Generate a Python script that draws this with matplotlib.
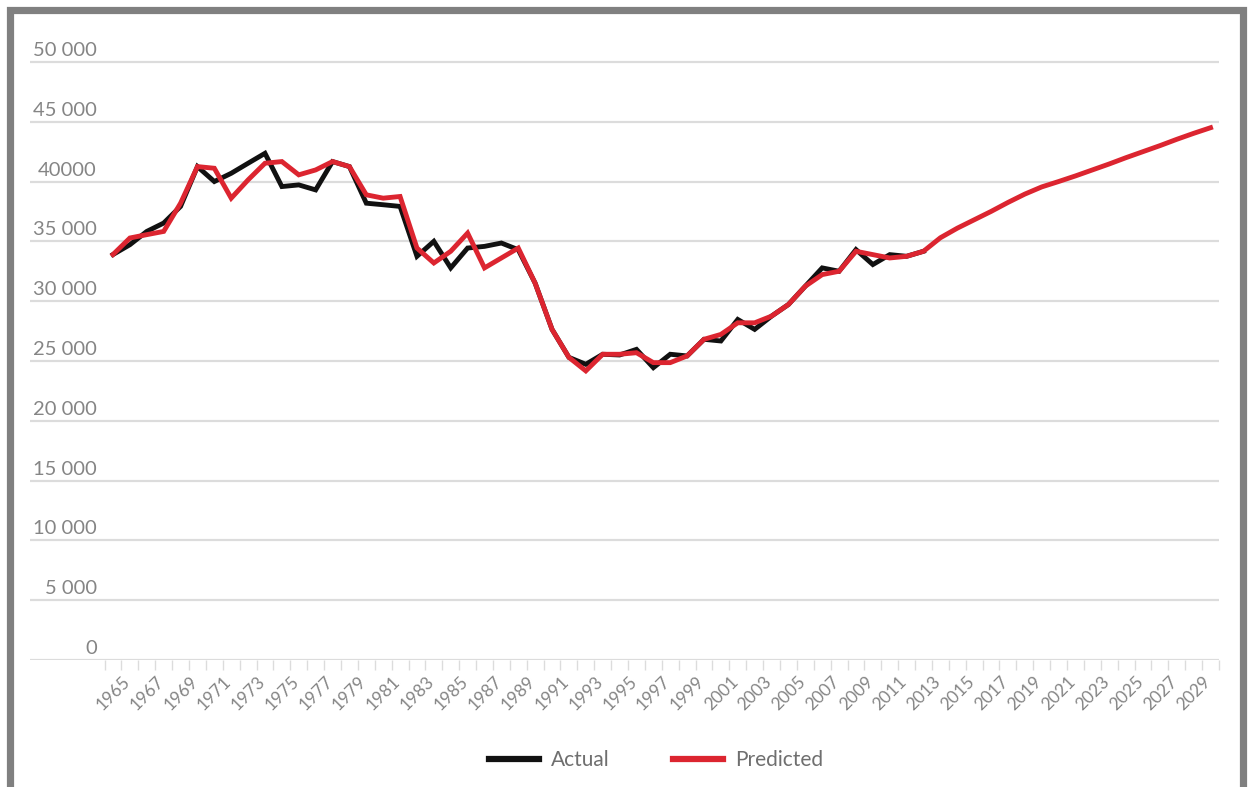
import numpy as np
import matplotlib
matplotlib.use("Agg")
import matplotlib.pyplot as plt
import matplotlib.transforms as mtransforms
from matplotlib.patches import Rectangle

plt.rcParams['font.family'] = ['Lato', 'DejaVu Sans']

# yearly series
years_actual = list(range(1965, 2014))
actual = [33900, 34720, 35830, 36530, 37920, 41250, 40000, 40690, 41530, 42360,
          39580, 39720, 39300, 41670, 41250, 38190, 38060, 37920, 33750, 35000,
          32780, 34440, 34580, 34860, 34300, 31500, 27640, 25300, 24720, 25560,
          25500, 25970, 24440, 25560, 25420, 26810, 26670, 28470, 27640, 28750,
          29720, 31250, 32780, 32500, 34310, 33060, 33890, 33750, 34170]

years_pred = list(range(1965, 2031))
predicted = [33900, 35280, 35560, 35830, 38190, 41250, 41110, 38610, 40140, 41530,
             41670, 40560, 40970, 41670, 41250, 38890, 38610, 38750, 34440, 33190,
             34170, 35690, 32780, 33610, 34440, 31500, 27640, 25300, 24170, 25560,
             25560, 25690, 24860, 24860, 25420, 26810, 27220, 28190, 28190, 28750,
             29720, 31250, 32220, 32500, 34170, 33890, 33610, 33750, 34170, 35300,
             36100, 36800, 37500, 38250, 38950, 39550, 40000, 40470, 40970, 41470,
             42000, 42500, 43000, 43530, 44030, 44500]

ytick_vals = [0, 5000, 10000, 15000, 20000, 25000, 30000, 35000, 40000, 45000, 50000]
ytick_text = ['0', '5 000', '10 000', '15 000', '20 000', '25 000', '30 000',
              '35 000', '40000', '45 000', '50 000']
label_years = list(range(1965, 2030, 2))

W, H = 1249, 787
fig = plt.figure(figsize=(W / 100, H / 100), dpi=100)
ax = fig.add_axes([30 / W, (H - 660) / H, (1219 - 30) / W, (660 - 38) / H])

grid_c = '#dcdcdc'
text_c = '#858585'

for v, t in zip(ytick_vals, ytick_text):
    ax.axhline(v, color=grid_c, lw=1.6, zorder=1)
    ax.annotate(t, xy=(0, v), xycoords=('axes fraction', 'data'),
                xytext=(67, 3), textcoords='offset pixels',
                ha='right', va='bottom', fontsize=14.5, color=text_c)

ax.plot(years_actual, actual, color='#111111', lw=3.5, label='Actual',
        solid_joinstyle='miter', zorder=3)
ax.plot(years_pred, predicted, color='#dc2530', lw=3.5, label='Predicted',
        solid_joinstyle='miter', zorder=4)

ax.set_xlim(1965 - 83 / 16.88, 2030.5)
ax.set_ylim(0, 52000)

for s in ax.spines.values():
    s.set_visible(False)
ax.set_yticks([])

# category boundaries get the tick marks, odd years get labels
ax.set_xticks(label_years)
ax.set_xticklabels([str(y) for y in label_years], rotation=45, ha='right',
                   rotation_mode='anchor', fontsize=12.5, color=text_c)
ax.set_xticks(np.arange(1964.5, 2031, 1), minor=True)
ax.tick_params(axis='x', which='major', length=0, pad=8)
ax.tick_params(axis='x', which='minor', length=7, width=1, color=grid_c)
shift = mtransforms.ScaledTranslation(9 / 100, -2 / 100, fig.dpi_scale_trans)
for lbl in ax.get_xticklabels():
    lbl.set_transform(lbl.get_transform() + shift)

leg = fig.legend(loc='center', bbox_to_anchor=(656 / W, (H - 760) / H), ncol=2,
                 frameon=False, fontsize=15, handlelength=2.4,
                 handletextpad=0.6, columnspacing=3.0)
for t in leg.get_texts():
    t.set_color('#6f6f6f')
for h in leg.legend_handles:
    h.set_linewidth(4.5)

# grey frame around the chart, open at the bottom edge
fig.add_artist(Rectangle((9.5 / W, -0.05), (1242.5 - 9.5) / W, (H - 9.5) / H + 0.05,
                         transform=fig.transFigure, fill=False,
                         edgecolor='#808080', lw=5.2))

fig.savefig('out.png', dpi=100)
